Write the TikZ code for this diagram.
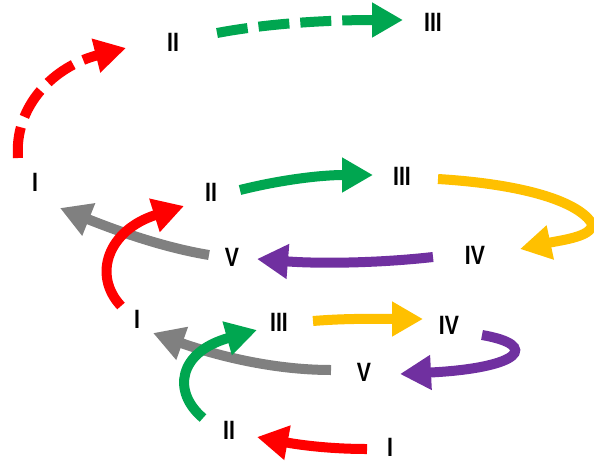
\documentclass[tikz,border=0pt]{standalone}
\usepackage{fontspec}
\setmainfont{Liberation Sans}
\usetikzlibrary{arrows.meta}
\definecolor{cred}{HTML}{FF0000}
\definecolor{cgreen}{HTML}{00A650}
\definecolor{cyellow}{HTML}{FFC000}
\definecolor{cpurple}{HTML}{7030A0}
\definecolor{cgray}{HTML}{808080}
\newcommand{\lbl}[1]{\scalebox{0.8}[1]{#1}}
\begin{document}
\begin{tikzpicture}[x=1pt,y=-1pt,
  lab/.style={font=\fontsize{26.5}{26.5}\selectfont\bfseries, inner sep=0pt},
  arr/.style={line width=10pt, -{Triangle[length=31pt,width=33pt]}},
  dsh/.style={arr, dash pattern=on 31pt off 11pt}]
\useasboundingbox (0,0) rectangle (594,461);
% labels
\node[lab] (tII) at (173,42) {\lbl{II}};
\node[lab] (tIII) at (433,22) {\lbl{III}};
\node[lab] (mI) at (35,182) {\lbl{I}};
\node[lab] (mII) at (211,192) {\lbl{II}};
\node[lab] (mIII) at (402,176) {\lbl{III}};
\node[lab] (mIV) at (475,255) {\lbl{IV}};
\node[lab] (mV) at (232,257) {\lbl{V}};
\node[lab] (bI) at (137,319) {\lbl{I}};
\node[lab] (bIII) at (279,322) {\lbl{III}};
\node[lab] (bIV) at (449,325) {\lbl{IV}};
\node[lab] (bV) at (364,372) {\lbl{V}};
\node[lab] (bII) at (229,430) {\lbl{II}};
\node[lab] (bIb) at (390,447) {\lbl{I}};
% endpoints
\coordinate (a1) at (18,158);  \coordinate (a2) at (126,48);
\coordinate (b1) at (217,33);  \coordinate (b2) at (403,20);
\coordinate (c1) at (240,190); \coordinate (c2) at (373,175);
\coordinate (d1) at (438,179); \coordinate (dm) at (591,222); \coordinate (d2) at (520,249);
\coordinate (e1) at (433,257); \coordinate (e2) at (257,259);
\coordinate (f1) at (209,255); \coordinate (f2) at (60,208);
\coordinate (g1) at (121,306); \coordinate (g2) at (184,206);
\coordinate (h1) at (313,321); \coordinate (h2) at (423,319);
\coordinate (i1) at (482,335); \coordinate (i2) at (400,374);
\coordinate (j1) at (331,370); \coordinate (j2) at (153,333);
\coordinate (k1) at (203,418); \coordinate (k2) at (257,330);
\coordinate (l1) at (367,449); \coordinate (l2) at (257,437);
% gray first
\draw[arr, cgray] (f1) .. controls (160,247) and (110,228) .. (f2);
\draw[arr, cgray] (j1) .. controls (270,370) and (212,354) .. (j2);
% others
\draw[dsh, cred] (a1) .. controls (14,105) and (55,66) .. (a2);
\draw[dsh, cgreen] (b1) .. controls (270,23) and (330,20) .. (b2);
\draw[arr, cgreen] (c1) .. controls (280,180) and (320,175) .. (c2);
\draw[arr, cyellow] (d1) .. controls (520,184) and (575,200) .. (dm)
   .. controls (597,236) and (562,240) .. (d2);
\draw[arr, cpurple] (e1) .. controls (380,263) and (320,264) .. (e2);
\draw[arr, cred] (g1) .. controls (92,275) and (108,230) .. (g2);
\draw[arr, cyellow] (h1) .. controls (350,318) and (380,319) .. (h2);
\draw[arr, cpurple] (i1) .. controls (540,345) and (522,368) .. (i2);
\draw[arr, cgreen] (k1) .. controls (172,392) and (178,352) .. (k2);
\draw[arr, cred] (l1) .. controls (330,449) and (300,445) .. (l2);
\end{tikzpicture}
\end{document}
